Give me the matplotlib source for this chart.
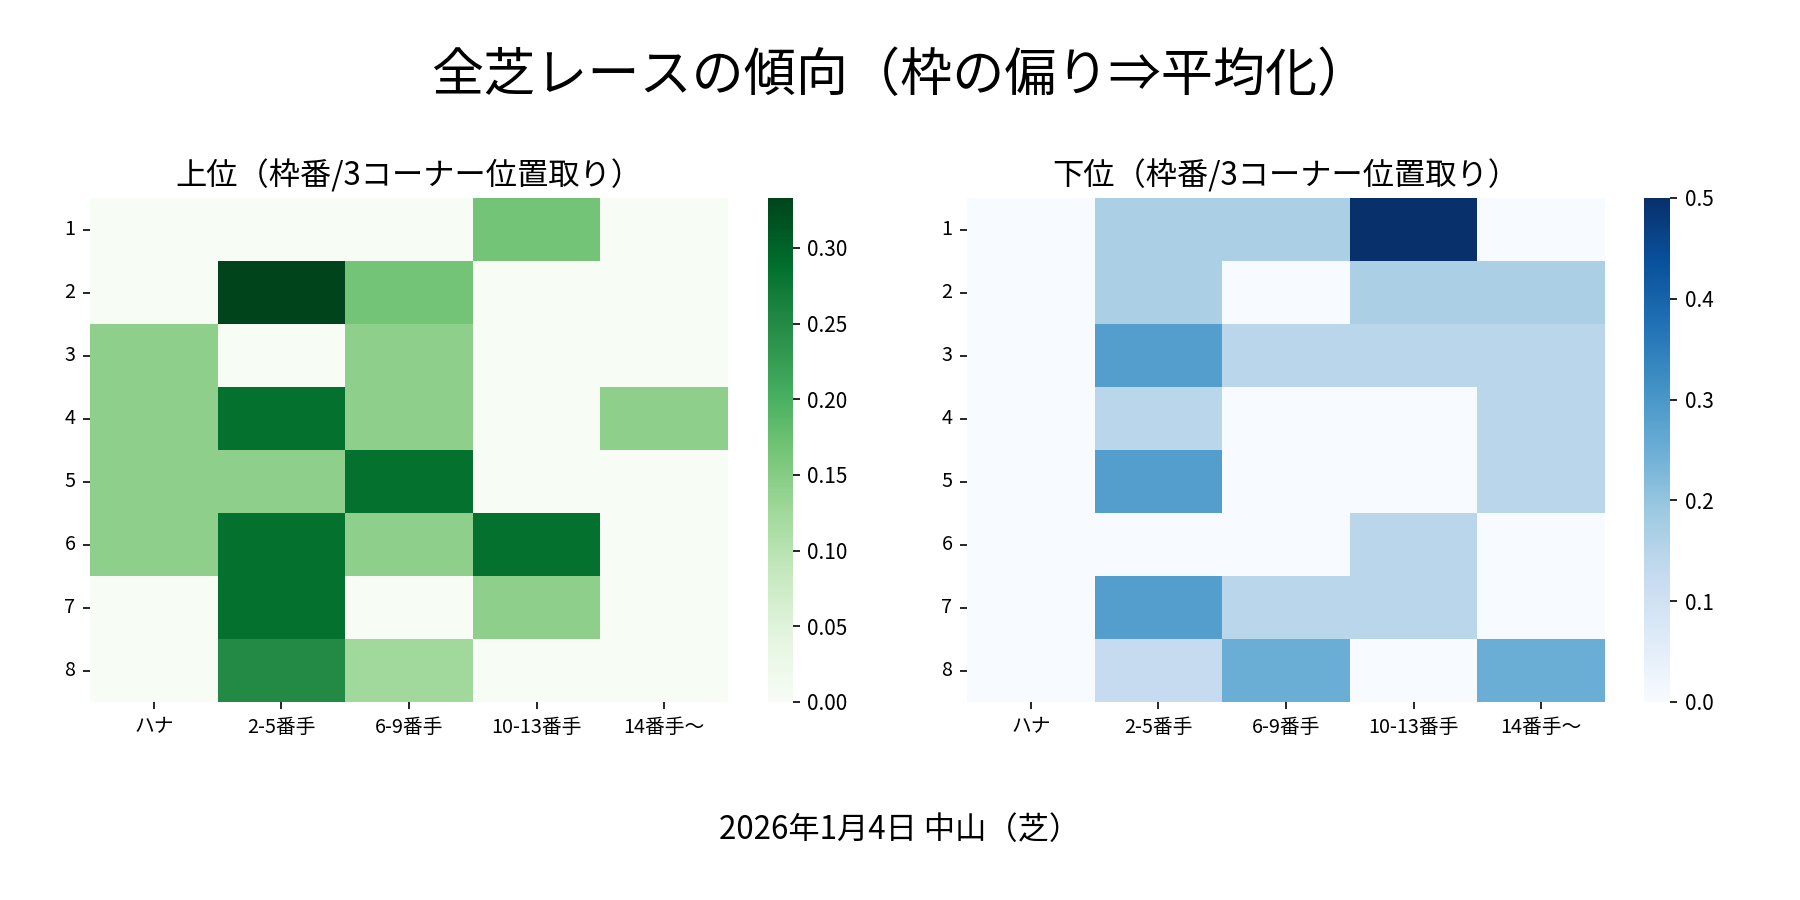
import matplotlib
matplotlib.use("Agg")
import matplotlib.pyplot as plt
import numpy as np
import pandas as pd
import seaborn as sns

plt.rcParams['font.family'] = ['Noto Sans CJK JP', 'DejaVu Sans']

waku = ["1", "2", "3", "4", "5", "6", "7", "8"]
positions = ["ハナ", "2-5番手", "6-9番手", "10-13番手", "14番手〜"]

# 上位 (rows = 枠番 1..8)
top_rate = [
    [0.000, 0.000, 0.000, 0.167, 0.000],
    [0.000, 0.333, 0.167, 0.000, 0.000],
    [0.143, 0.000, 0.143, 0.000, 0.000],
    [0.143, 0.286, 0.143, 0.000, 0.143],
    [0.143, 0.143, 0.286, 0.000, 0.000],
    [0.143, 0.286, 0.143, 0.286, 0.000],
    [0.000, 0.286, 0.000, 0.143, 0.000],
    [0.000, 0.250, 0.125, 0.000, 0.000],
]

# 下位
bottom_rate = [
    [0.000, 0.167, 0.167, 0.500, 0.000],
    [0.000, 0.167, 0.000, 0.167, 0.167],
    [0.000, 0.286, 0.143, 0.143, 0.143],
    [0.000, 0.143, 0.000, 0.000, 0.143],
    [0.000, 0.286, 0.000, 0.000, 0.143],
    [0.000, 0.000, 0.000, 0.143, 0.000],
    [0.000, 0.286, 0.143, 0.143, 0.000],
    [0.000, 0.125, 0.250, 0.000, 0.250],
]

df_top = pd.DataFrame(top_rate, index=waku, columns=positions)
df_bottom = pd.DataFrame(bottom_rate, index=waku, columns=positions)

fig = plt.figure(figsize=(12, 6), dpi=150)
ax1 = fig.add_axes([0.05, 0.22, 0.3544, 0.56])
cax1 = fig.add_axes([0.4267, 0.22, 0.0138, 0.56])
ax2 = fig.add_axes([0.5372, 0.22, 0.3545, 0.56])
cax2 = fig.add_axes([0.9133, 0.22, 0.0145, 0.56])

sns.heatmap(df_top, cmap="Greens", ax=ax1, cbar_ax=cax1)
sns.heatmap(df_bottom, cmap="Blues", ax=ax2, cbar_ax=cax2)

for ax, title in [(ax1, "上位（枠番/3コーナー位置取り）"), (ax2, "下位（枠番/3コーナー位置取り）")]:
    ax.set_title(title, fontsize=15)
    ax.set_xlabel("")
    ax.set_ylabel("")
    ax.tick_params(axis="both", labelsize=9.5)
    plt.setp(ax.get_yticklabels(), rotation=0)
    plt.setp(ax.get_xticklabels(), rotation=0)

for cax in [cax1, cax2]:
    cax.tick_params(labelsize=10)

fig.suptitle("全芝レースの傾向（枠の偏り⇒平均化）", fontsize=25, y=0.915, va="center")
fig.text(0.5, 0.078, "2026年1月4日 中山（芝）", ha="center", va="center", fontsize=15)

fig.savefig("out.png", dpi=150)
